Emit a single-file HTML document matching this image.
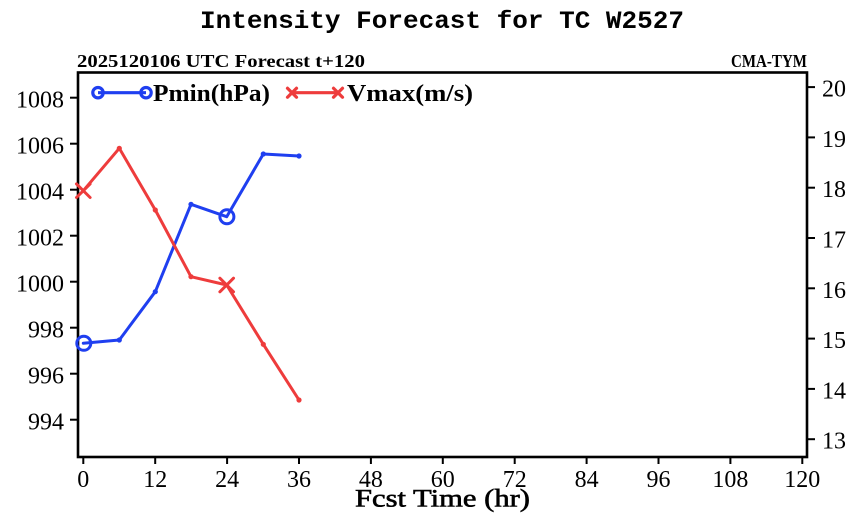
<!DOCTYPE html>
<html><head><meta charset="utf-8"><style>
html,body{margin:0;padding:0;background:#fff;}
svg{display:block;}
</style></head><body>
<svg width="860" height="525" viewBox="0 0 860 525" xmlns="http://www.w3.org/2000/svg">
<rect width="860" height="525" fill="#fff"/>
<!-- Title -->
<text x="200" y="28" font-family="Liberation Mono, monospace" font-size="25" font-weight="bold" textLength="484" lengthAdjust="spacingAndGlyphs" fill="#000">Intensity Forecast for TC W2527</text>
<!-- Subtitle -->
<text x="77" y="67" font-family="Liberation Serif, serif" font-size="18" font-weight="bold" textLength="288" lengthAdjust="spacingAndGlyphs" fill="#000">2025120106 UTC Forecast t+120</text>
<text x="731" y="67" font-family="Liberation Serif, serif" font-size="18" font-weight="bold" textLength="76" lengthAdjust="spacingAndGlyphs" fill="#000">CMA-TYM</text>
<!-- Frame -->
<rect x="78" y="72.5" width="729" height="384.5" fill="none" stroke="#000" stroke-width="2.6"/>
<!-- Left ticks -->
<g stroke="#000" stroke-width="2">
<line x1="70" y1="97.7" x2="78" y2="97.7"/>
<line x1="70" y1="143.7" x2="78" y2="143.7"/>
<line x1="70" y1="189.7" x2="78" y2="189.7"/>
<line x1="70" y1="235.7" x2="78" y2="235.7"/>
<line x1="70" y1="281.7" x2="78" y2="281.7"/>
<line x1="70" y1="327.7" x2="78" y2="327.7"/>
<line x1="70" y1="373.7" x2="78" y2="373.7"/>
<line x1="70" y1="419.7" x2="78" y2="419.7"/>
</g>
<g font-family="Liberation Serif, serif" font-size="24" fill="#000" text-anchor="end">
<text x="64" y="107.7">1008</text>
<text x="64" y="153.7">1006</text>
<text x="64" y="199.7">1004</text>
<text x="64" y="245.7">1002</text>
<text x="64" y="291.7">1000</text>
<text x="64" y="337.7">998</text>
<text x="64" y="383.7">996</text>
<text x="64" y="429.7">994</text>
</g>
<!-- Right ticks -->
<g stroke="#000" stroke-width="2">
<line x1="807" y1="87.1" x2="815" y2="87.1"/>
<line x1="807" y1="137.4" x2="815" y2="137.4"/>
<line x1="807" y1="187.7" x2="815" y2="187.7"/>
<line x1="807" y1="238" x2="815" y2="238"/>
<line x1="807" y1="288.3" x2="815" y2="288.3"/>
<line x1="807" y1="338.6" x2="815" y2="338.6"/>
<line x1="807" y1="388.9" x2="815" y2="388.9"/>
<line x1="807" y1="439.2" x2="815" y2="439.2"/>
</g>
<g font-family="Liberation Serif, serif" font-size="24" fill="#000">
<text x="822" y="96.6">20</text>
<text x="822" y="146.9">19</text>
<text x="822" y="197.2">18</text>
<text x="822" y="247.5">17</text>
<text x="822" y="297.8">16</text>
<text x="822" y="348.1">15</text>
<text x="822" y="398.4">14</text>
<text x="822" y="448.7">13</text>
</g>
<!-- Bottom ticks -->
<g stroke="#000" stroke-width="2">
<line x1="83.3" y1="457" x2="83.3" y2="464"/>
<line x1="155.2" y1="457" x2="155.2" y2="464"/>
<line x1="227.1" y1="457" x2="227.1" y2="464"/>
<line x1="299" y1="457" x2="299" y2="464"/>
<line x1="370.9" y1="457" x2="370.9" y2="464"/>
<line x1="442.8" y1="457" x2="442.8" y2="464"/>
<line x1="514.7" y1="457" x2="514.7" y2="464"/>
<line x1="586.6" y1="457" x2="586.6" y2="464"/>
<line x1="658.5" y1="457" x2="658.5" y2="464"/>
<line x1="730.4" y1="457" x2="730.4" y2="464"/>
<line x1="802.3" y1="457" x2="802.3" y2="464"/>
</g>
<g font-family="Liberation Serif, serif" font-size="24" fill="#000" text-anchor="middle">
<text x="83.3" y="487">0</text>
<text x="155.2" y="487">12</text>
<text x="227.1" y="487">24</text>
<text x="299" y="487">36</text>
<text x="370.9" y="487">48</text>
<text x="442.8" y="487">60</text>
<text x="514.7" y="487">72</text>
<text x="586.6" y="487">84</text>
<text x="658.5" y="487">96</text>
<text x="730.4" y="487">108</text>
<text x="802.3" y="487">120</text>
</g>
<text x="355" y="506.5" font-family="Liberation Serif, serif" font-size="25" stroke="#000" stroke-width="0.6" textLength="175" lengthAdjust="spacingAndGlyphs" fill="#000">Fcst Time (hr)</text>
<!-- Pmin series -->
<g stroke="#1f3ff0" fill="none" stroke-width="3" stroke-linejoin="round" stroke-linecap="round">
<polyline points="83.3,343.3 119.3,340 155.3,291.7 191,204.3 226.7,216.7 263.3,154 299,156"/>
<circle cx="83.8" cy="343.3" r="7"/>
<circle cx="226.9" cy="216.7" r="7"/>
</g>
<g fill="#1f3ff0">
<circle cx="119.3" cy="340" r="2.6"/>
<circle cx="155.3" cy="291.7" r="2.6"/>
<circle cx="191" cy="204.3" r="2.6"/>
<circle cx="263.3" cy="154" r="2.6"/>
<circle cx="299" cy="156" r="2.6"/>
</g>
<!-- Vmax series -->
<g stroke="#ee3c3c" fill="none" stroke-width="3" stroke-linejoin="round" stroke-linecap="round">
<polyline points="83.3,190.7 119.3,148.3 155.3,210 191,276.7 226.7,285 263.3,344.3 299,400"/>
<path d="M76.5,183.9 L90.1,197.5 M90.1,183.9 L76.5,197.5"/>
<path d="M219.9,278.2 L233.5,291.8 M233.5,278.2 L219.9,291.8"/>
</g>
<g fill="#ee3c3c">
<circle cx="119.3" cy="148.3" r="2.6"/>
<circle cx="155.3" cy="210" r="2.6"/>
<circle cx="191" cy="276.7" r="2.6"/>
<circle cx="263.3" cy="344.3" r="2.6"/>
<circle cx="299" cy="400" r="2.6"/>
</g>
<!-- Legend -->
<g stroke="#1f3ff0" fill="none" stroke-width="3.2">
<line x1="98" y1="92.7" x2="146" y2="92.7"/>
<circle cx="98" cy="92.7" r="5.2"/>
<circle cx="146" cy="92.7" r="5.2"/>
</g>
<text x="153" y="101" font-family="Liberation Serif, serif" font-size="24" font-weight="bold" textLength="117" lengthAdjust="spacingAndGlyphs" fill="#000">Pmin(hPa)</text>
<g stroke="#ee3c3c" fill="none" stroke-width="3.2" stroke-linecap="round">
<line x1="292" y1="92.7" x2="338" y2="92.7"/>
<path d="M287.5,88.2 L296.5,97.2 M296.5,88.2 L287.5,97.2"/>
<path d="M333.5,88.2 L342.5,97.2 M342.5,88.2 L333.5,97.2"/>
</g>
<text x="347" y="101" font-family="Liberation Serif, serif" font-size="24" font-weight="bold" textLength="126" lengthAdjust="spacingAndGlyphs" fill="#000">Vmax(m/s)</text>
</svg>
</body></html>
